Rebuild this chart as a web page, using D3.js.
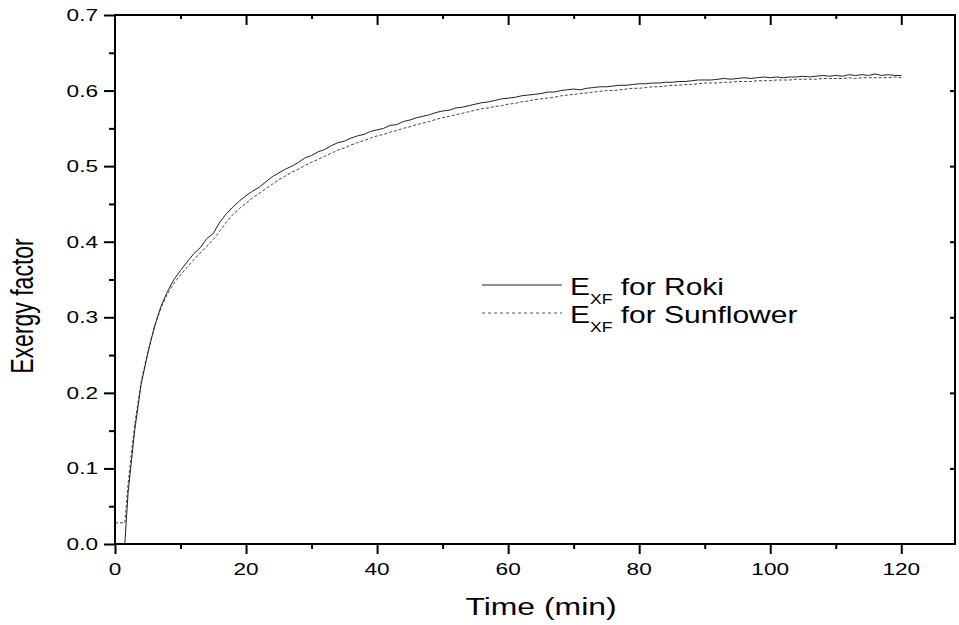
<!DOCTYPE html>
<html>
<head>
<meta charset="utf-8">
<script src="https://cdn.jsdelivr.net/npm/d3@7"></script>
<style>
  html, body { margin: 0; padding: 0; background: #fff; }
  svg { display: block; }
  text { font-family: "Liberation Sans", Arial, sans-serif; fill: #000; }
</style>
</head>
<body>
<svg id="chart" width="959" height="625"></svg>
<script>
// Exergy factor over drying time for two oils
const timeRoki = [1.5, 2, 3, 4, 5, 6, 7, 8, 9, 10, 11, 12, 13, 14, 15, 16, 17, 18, 19, 20,
  21, 22, 23, 24, 25, 26, 27, 28, 29, 30, 31, 32, 33, 34, 35, 36, 37, 38, 39, 40,
  41, 42, 43, 44, 45, 46, 47, 48, 49, 50, 51, 52, 53, 54, 55, 56, 57, 58, 59, 60,
  61, 62, 63, 64, 65, 66, 67, 68, 69, 70, 71, 72, 73, 74, 75, 76, 77, 78, 79, 80,
  81, 82, 83, 84, 85, 86, 87, 88, 89, 90, 91, 92, 93, 94, 95, 96, 97, 98, 99, 100,
  101, 102, 103, 104, 105, 106, 107, 108, 109, 110, 111, 112, 113, 114, 115, 116, 117, 118, 119, 120];
const exfRoki = [0.000, 0.068, 0.150, 0.212, 0.252, 0.287, 0.314, 0.334, 0.350, 0.362,
  0.373, 0.384, 0.392, 0.404, 0.411, 0.426, 0.437, 0.446, 0.454, 0.461,
  0.467, 0.472, 0.479, 0.486, 0.491, 0.496, 0.500, 0.505, 0.511, 0.514,
  0.519, 0.522, 0.527, 0.531, 0.533, 0.537, 0.540, 0.542, 0.546, 0.548,
  0.550, 0.554, 0.555, 0.559, 0.561, 0.564, 0.566, 0.568, 0.571, 0.573,
  0.574, 0.577, 0.578, 0.580, 0.582, 0.584, 0.585, 0.587, 0.589, 0.590,
  0.591, 0.593, 0.594, 0.595, 0.596, 0.598, 0.598, 0.600, 0.601, 0.602,
  0.601, 0.603, 0.604, 0.605, 0.605, 0.606, 0.607, 0.607, 0.608, 0.609,
  0.609, 0.610, 0.610, 0.611, 0.611, 0.612, 0.612, 0.613, 0.614, 0.614,
  0.614, 0.615, 0.616, 0.615, 0.616, 0.617, 0.616, 0.617, 0.618, 0.617,
  0.618, 0.617, 0.618, 0.618, 0.619, 0.618, 0.619, 0.620, 0.619, 0.620,
  0.619, 0.621, 0.620, 0.621, 0.620, 0.622, 0.620, 0.621, 0.620, 0.620];

const timeSunflower = [0, 1.5, 2, 3, 4, 5, 6, 7, 8, 9, 10, 11, 12, 13, 14, 15, 16, 17, 18, 19, 20,
  21, 22, 23, 24, 25, 26, 27, 28, 29, 30, 31, 32, 33, 34, 35, 36, 37, 38, 39, 40,
  41, 42, 43, 44, 45, 46, 47, 48, 49, 50, 51, 52, 53, 54, 55, 56, 57, 58, 59, 60,
  61, 62, 63, 64, 65, 66, 67, 68, 69, 70, 71, 72, 73, 74, 75, 76, 77, 78, 79, 80,
  81, 82, 83, 84, 85, 86, 87, 88, 89, 90, 91, 92, 93, 94, 95, 96, 97, 98, 99, 100,
  101, 102, 103, 104, 105, 106, 107, 108, 109, 110, 111, 112, 113, 114, 115, 116, 117, 118, 119, 120];
const exfSunflower = [0.028, 0.028, 0.080, 0.158, 0.215, 0.254, 0.287, 0.312, 0.331, 0.345, 0.356,
  0.366, 0.376, 0.385, 0.394, 0.403, 0.414, 0.426, 0.436, 0.444, 0.451,
  0.458, 0.464, 0.470, 0.476, 0.482, 0.487, 0.492, 0.496, 0.501, 0.505,
  0.509, 0.513, 0.517, 0.521, 0.524, 0.528, 0.531, 0.534, 0.537, 0.540,
  0.542, 0.545, 0.547, 0.550, 0.552, 0.555, 0.557, 0.559, 0.562, 0.564,
  0.566, 0.568, 0.570, 0.572, 0.574, 0.576, 0.577, 0.579, 0.580, 0.582,
  0.583, 0.585, 0.586, 0.588, 0.589, 0.590, 0.591, 0.593, 0.594, 0.595,
  0.596, 0.597, 0.598, 0.599, 0.600, 0.600, 0.601, 0.602, 0.603, 0.603,
  0.604, 0.605, 0.605, 0.606, 0.607, 0.607, 0.608, 0.608, 0.609, 0.610,
  0.610, 0.610, 0.611, 0.611, 0.612, 0.612, 0.612, 0.613, 0.613, 0.613,
  0.614, 0.614, 0.614, 0.615, 0.615, 0.615, 0.615, 0.616, 0.616, 0.616,
  0.616, 0.617, 0.616, 0.617, 0.617, 0.617, 0.617, 0.617, 0.618, 0.617];

const xTicks = [0, 20, 40, 60, 80, 100, 120];
const yTicks = [0.0, 0.1, 0.2, 0.3, 0.4, 0.5, 0.6, 0.7];
const legendLabels = ["for Roki", "for Sunflower"];

const svg = d3.select("#chart");
const plotLeft = 115, plotRight = 955, plotTop = 15, plotBottom = 544;

const x = d3.scaleLinear().domain([0, 128.2]).range([plotLeft, plotRight]);
const y = d3.scaleLinear().domain([0, 0.7]).range([plotBottom, plotTop]);

const stretch = 1.33;

// clip curves to plot box
svg.append("clipPath").attr("id", "plotclip")
  .append("rect").attr("x", plotLeft).attr("y", plotTop)
  .attr("width", plotRight - plotLeft).attr("height", plotBottom - plotTop);

const line = d3.line().x(d => x(d[0])).y(d => y(d[1]));

const roki = timeRoki.map((t, i) => [t, exfRoki[i]]);
const sun = timeSunflower.map((t, i) => [t, exfSunflower[i]]);

svg.append("path").datum(sun)
  .attr("clip-path", "url(#plotclip)")
  .attr("fill", "none").attr("stroke", "#444").attr("stroke-width", 1)
  .attr("stroke-dasharray", "3,2")
  .attr("d", line);

svg.append("path").datum(roki)
  .attr("clip-path", "url(#plotclip)")
  .attr("fill", "none").attr("stroke", "#222").attr("stroke-width", 1)
  .attr("d", line);

// axes
const xMinor = d3.range(10, 128, 20);
const yMinor = d3.range(0.05, 0.7, 0.1);

svg.append("g").attr("transform", `translate(0,${plotBottom})`)
  .call(d3.axisBottom(x).tickValues(xTicks).tickSize(10).tickFormat(""));
svg.append("g").attr("transform", `translate(0,${plotBottom})`)
  .call(d3.axisBottom(x).tickValues(xMinor).tickSize(5).tickFormat(""));
svg.append("g").attr("transform", `translate(0,${plotTop})`)
  .call(d3.axisBottom(x).tickValues(xTicks.filter(d => d > 0)).tickSize(10).tickFormat(""));
svg.append("g").attr("transform", `translate(0,${plotTop})`)
  .call(d3.axisBottom(x).tickValues(xMinor).tickSize(4).tickFormat(""));
svg.append("g").attr("transform", `translate(${plotLeft},0)`)
  .call(d3.axisLeft(y).tickValues(yTicks).tickSize(11).tickFormat(""));
svg.append("g").attr("transform", `translate(${plotLeft},0)`)
  .call(d3.axisLeft(y).tickValues(yMinor).tickSize(6).tickFormat(""));
svg.append("g").attr("transform", `translate(${plotRight},0)`)
  .call(d3.axisLeft(y).tickValues(yTicks.filter(d => d > 0 && d < 0.7)).tickSize(5).tickFormat(""));

svg.selectAll(".domain").remove();
svg.selectAll(".tick line").attr("stroke", "#000").attr("stroke-width", 2);

// frame
svg.append("rect")
  .attr("x", plotLeft).attr("y", plotTop)
  .attr("width", plotRight - plotLeft).attr("height", plotBottom - plotTop)
  .attr("fill", "none").attr("stroke", "#000").attr("stroke-width", 2);

// tick labels
svg.append("g").selectAll("text").data(xTicks).join("text")
  .attr("transform", d => `translate(${x(d)},575) scale(${stretch},1)`)
  .attr("text-anchor", "middle")
  .style("font-size", "17px")
  .text(d => d3.format("d")(d));

svg.append("g").selectAll("text").data(yTicks).join("text")
  .attr("transform", d => `translate(98,${y(d) + 6}) scale(${stretch},1)`)
  .attr("text-anchor", "end")
  .style("font-size", "17px")
  .text(d => d3.format(".1f")(d));

// axis titles
svg.append("text")
  .attr("transform", `translate(${(plotLeft + plotRight) / 2 + 6},615) scale(${stretch},1)`)
  .attr("text-anchor", "middle")
  .style("font-size", "24px")
  .text("Time (min)");

svg.append("text")
  .attr("transform", `translate(33,306) scale(${stretch},1) rotate(-90)`)
  .attr("text-anchor", "middle")
  .style("font-size", "23px")
  .text("Exergy factor");

// legend
const legendRows = [
  { y: 285, dash: null, color: "#222" },
  { y: 313, dash: "3,3", color: "#555" }
];
legendRows.forEach((r, i) => {
  svg.append("line")
    .attr("x1", 482).attr("x2", 562).attr("y1", r.y).attr("y2", r.y)
    .attr("stroke", r.color).attr("stroke-width", 1)
    .attr("stroke-dasharray", r.dash);
  const t = svg.append("text")
    .attr("transform", `translate(570,${r.y + 10}) scale(1.25,1)`)
    .style("font-size", "24px");
  t.append("tspan").text("E");
  t.append("tspan").attr("dy", 9).style("font-size", "14px").text("XF");
  t.append("tspan").attr("dy", -9).text(" " + legendLabels[i]);
});
</script>
</body>
</html>
